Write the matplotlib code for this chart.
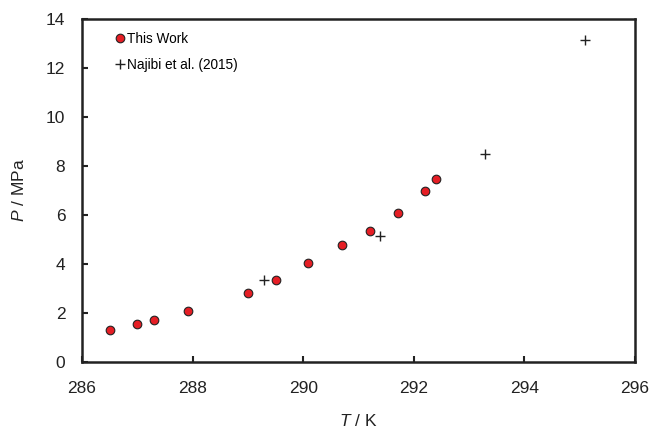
import numpy as np
import matplotlib
matplotlib.use('Agg')
from matplotlib import pyplot as plt

plt.rcParams['font.family'] = ['Liberation Sans', 'DejaVu Sans']
plt.rcParams['mathtext.fontset'] = 'custom'
plt.rcParams['mathtext.rm'] = 'Liberation Sans'
plt.rcParams['mathtext.it'] = 'Liberation Sans:italic'

# this work
T_work = [286.51, 286.99, 287.30, 287.92, 289.00, 289.50, 290.09, 290.70, 291.21, 291.71, 292.20, 292.41]
P_work = [1.31, 1.56, 1.71, 2.08, 2.83, 3.33, 4.04, 4.79, 5.35, 6.07, 6.98, 7.48]
# Najibi et al. (2015)
T_naj = [289.30, 291.38, 293.28, 295.10]
P_naj = [3.35, 5.14, 8.49, 13.14]

fig = plt.figure(figsize=(6.52, 4.28), dpi=100)
ax = fig.add_axes([82/652, 1-362/428, (635-82)/652, (362-19)/428])

ax.plot(T_work, P_work, 'o', color='#e51e25', mec='#222222', mew=0.8, ms=6.2, label='This Work')
ax.plot(T_naj, P_naj, '+', color='#222222', mew=1.0, ms=7, label='Najibi et al. (2015)')

ax.set_xlim(286, 296)
ax.set_ylim(0, 14)
ax.set_xticks(np.arange(286, 297, 2))
ax.set_yticks(np.arange(0, 15, 2))
ax.tick_params(direction='in', length=4, width=1.5, labelsize=12.5, colors='#222222')
ax.tick_params(axis='x', pad=14)
ax.tick_params(axis='y', pad=12)
for s in ax.spines.values():
    s.set_linewidth(1.8)
    s.set_color('#222222')
ax.set_xlabel(r'$\mathit{T}$ / K', fontsize=12.5, labelpad=12, color='#222222')
ax.set_ylabel(r'$\mathit{P}$ / MPa', fontsize=12.5, labelpad=14, color='#222222')

ax.legend(loc='upper left', frameon=False, fontsize=9.8, handlelength=0.6, handletextpad=0.2,
          labelspacing=0.85, borderaxespad=0.3, bbox_to_anchor=(0.045, 0.99))

fig.savefig('out.png', dpi=100)
